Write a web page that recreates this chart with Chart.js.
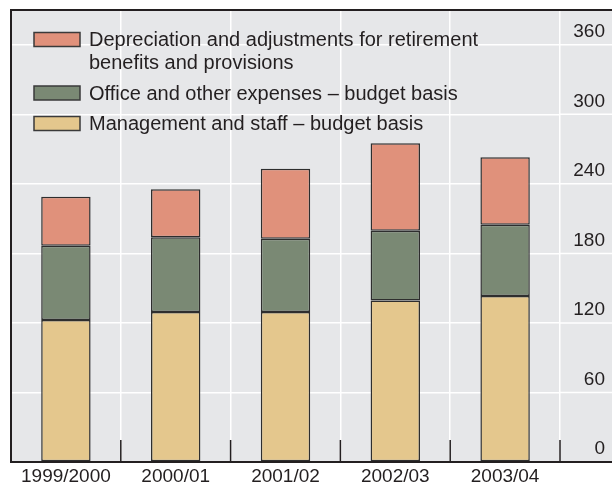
<!DOCTYPE html>
<html><head><meta charset="utf-8">
<script src="https://cdn.jsdelivr.net/npm/chart.js@4"></script>
<style>html,body{margin:0;padding:0;background:#fff}#wrap{width:612px;height:486px}</style>
</head><body><div id="wrap"><canvas id="c" width="612" height="486"></canvas></div>
<script>
const categories = ['1999/2000', '2000/01', '2001/02', '2002/03', '2003/04'];
const staff = [122.6, 129.5, 129.5, 139.3, 143.3];
const office = [63.9, 64.4, 63.1, 60.2, 61.4];
const depreciation = [42.3, 41.5, 60.4, 75.6, 58.3];
const yTicks = [0, 60, 120, 180, 240, 300, 360];
const labelDep = ['Depreciation and adjustments for retirement', 'benefits and provisions'];
const labelOffice = ['Office and other expenses \u2013 budget basis'];
const labelStaff = ['Management and staff \u2013 budget basis'];

const FONT = '"Liberation Sans", Arial, Helvetica, sans-serif';
const INK = '#231f20';
const BG = '#e6e7e9';

const framePlugin = {
  id: 'frame',
  beforeDraw(chart) {
    const ctx = chart.ctx, a = chart.chartArea;
    ctx.save();
    ctx.fillStyle = BG;
    ctx.fillRect(a.left, a.top, chart.width - a.left, a.bottom - a.top);
    ctx.restore();
  },
  beforeDatasetsDraw(chart) {
    const ctx = chart.ctx, a = chart.chartArea, ys = chart.scales.y;
    ctx.save();
    ctx.strokeStyle = '#ffffff';
    ctx.lineWidth = 1.5;
    yTicks.forEach(v => {
      const y = ys.getPixelForValue(v);
      ctx.beginPath(); ctx.moveTo(a.right, y); ctx.lineTo(chart.width, y); ctx.stroke();
    });
    ctx.restore();
  },
  afterDatasetsDraw(chart) {
    const ctx = chart.ctx, a = chart.chartArea, xs = chart.scales.x;
    ctx.save();
    ctx.strokeStyle = INK;
    ctx.lineWidth = 2;
    ctx.beginPath();
    ctx.moveTo(chart.width, a.top); ctx.lineTo(a.left, a.top); ctx.lineTo(a.left, a.bottom); ctx.lineTo(chart.width, a.bottom);
    ctx.stroke();
    ctx.lineWidth = 1.5;
    for (let i = 1; i <= categories.length; i++) {
      const x = i < categories.length
        ? (xs.getPixelForValue(i - 1) + xs.getPixelForValue(i)) / 2
        : a.right;
      ctx.beginPath(); ctx.moveTo(x, a.bottom); ctx.lineTo(x, a.bottom - 22); ctx.stroke();
    }
    ctx.restore();
  },
  afterDraw(chart) {
    const ctx = chart.ctx;
    const items = [2, 1, 0].map(i => chart.data.datasets[i]);
    const rows = [32.5, 86, 116.5];
    ctx.save();
    ctx.font = '20px ' + FONT;
    ctx.textBaseline = 'middle';
    ctx.textAlign = 'left';
    items.forEach((ds, k) => {
      const top = rows[k];
      ctx.fillStyle = ds.backgroundColor;
      ctx.fillRect(34, top, 46, 14);
      ctx.strokeStyle = '#3a3a3a';
      ctx.lineWidth = 1.5;
      ctx.strokeRect(34, top, 46, 14);
      ctx.fillStyle = INK;
      ds.legendText.forEach((t, j) => ctx.fillText(t, 89, top + 8 + j * 23));
    });
    ctx.restore();
  }
};

new Chart(document.getElementById('c'), {
  type: 'bar',
  data: {
    labels: categories,
    datasets: [
      { label: labelStaff.join(' '), legendText: labelStaff, data: staff, backgroundColor: '#e4c78d' },
      { label: labelOffice.join(' '), legendText: labelOffice, data: office, backgroundColor: '#7a8974' },
      { label: labelDep.join(' '), legendText: labelDep, data: depreciation, backgroundColor: '#e0917b' }
    ].map(d => Object.assign(d, { borderColor: '#2e2e2e', borderWidth: 1.5, borderSkipped: false, categoryPercentage: 1, barPercentage: 0.45 }))
  },
  options: {
    responsive: false,
    animation: false,
    layout: { padding: { left: 11, top: 10, right: 7, bottom: 0 } },
    plugins: { legend: { display: false }, tooltip: { enabled: false } },
    scales: {
      x: {
        stacked: true,
        offset: true,
        grid: { offset: true, color: '#ffffff', lineWidth: 1.5, drawTicks: false },
        border: { display: false },
        ticks: { color: INK, font: { family: FONT, size: 19 }, padding: 3, maxRotation: 0 },
        afterFit(s) { s.height = 24; s.paddingLeft = 0; s.paddingRight = 0; }
      },
      y: {
        stacked: true,
        position: 'right',
        min: 0,
        max: 390,
        afterBuildTicks(s) { s.ticks = yTicks.map(v => ({ value: v })); },
        grid: { color: '#ffffff', lineWidth: 1.5, drawTicks: false },
        border: { display: false },
        ticks: { color: INK, font: { family: FONT, size: 19 }, padding: 0, crossAlign: 'far', labelOffset: -13 },
        afterFit(s) { s.width = 45; s.paddingTop = 0; s.paddingBottom = 0; }
      }
    }
  },
  plugins: [framePlugin]
});
</script>
</body></html>
